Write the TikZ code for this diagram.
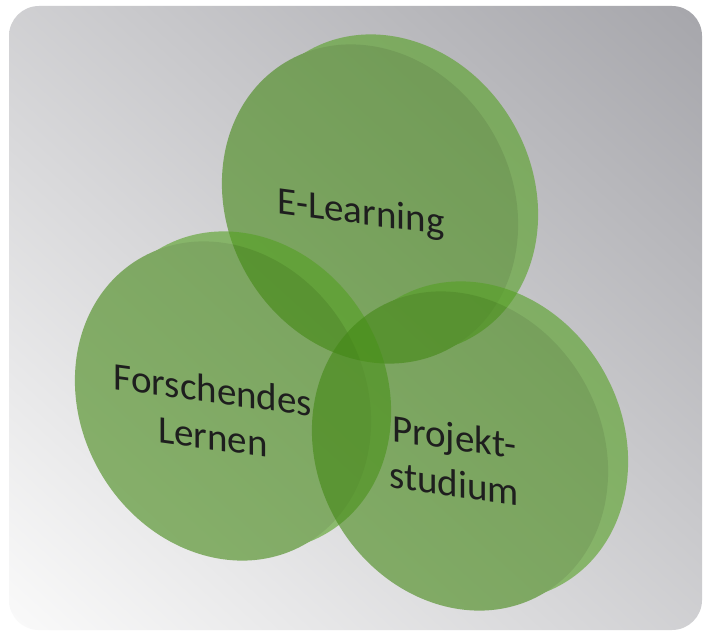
\documentclass[tikz,border=0pt]{standalone}
\usepackage{fontspec}
\setmainfont{Carlito}
\definecolor{discface}{RGB}{67,136,20}
\definecolor{discband}{RGB}{84,160,34}
\definecolor{labeltext}{RGB}{30,30,30}
% grey to white, along the diagonal
\pgfdeclarefunctionalshading{bgshading}{\pgfpoint{0bp}{0bp}}{\pgfpoint{100bp}{100bp}}{}{
  add 50 sub 100 div dup 0.33 mul 0.98 exch sub dup 3 -1 roll 0.02 mul 2 index add
}
\tikzset{
  face/.style = {fill=discface},
  band/.style = {fill=discband},
  disc/.style = {transparency group, opacity=0.6},
  lbl/.style  = {text=labeltext, align=center, inner sep=0pt,
                 font=\fontsize{39}{47}\selectfont}
}

\begin{document}
\begin{tikzpicture}[x=1pt, y=1pt]
	\def \ra{165}   % long half axis
	\def \rb{142}   % short half axis
	\def \tilt{-60}
	\def \dx{20}    % depth of the discs
	\def \dy{10}

	\useasboundingbox (0,0) rectangle (708,635);
	\fill[white] (0,0) rectangle (708,635);

	% Background
	\shade[shading=bgshading, rounded corners=30] (9,5) rectangle (702,629);

	% Disc E-Learning
	\begin{scope}[disc, shift={(370,431)}]
		\fill[band, shift={(\dx,\dy)}, rotate=\tilt] (0,0) ellipse [x radius=\ra, y radius=\rb];
		\fill[face, rotate=\tilt] (0,0) ellipse [x radius=\ra, y radius=\rb];
	\end{scope}

	% Disc Forschendes Lernen
	\begin{scope}[disc, shift={(223,234)}]
		\fill[band, shift={(\dx,\dy)}, rotate=\tilt] (0,0) ellipse [x radius=\ra, y radius=\rb];
		\fill[face, rotate=\tilt] (0,0) ellipse [x radius=\ra, y radius=\rb];
	\end{scope}

	% Disc Projektstudium
	\begin{scope}[disc, shift={(460,184)}]
		\fill[band, shift={(\dx,\dy)}, rotate=\tilt] (0,0) ellipse [x radius=\ra, y radius=\rb];
		\fill[face, rotate=\tilt] (0,0) ellipse [x radius=\ra, y radius=\rb];
	\end{scope}

	% Labels
	\node[lbl, yslant=-0.132] (elearning) at (361,421) {E-Learning};
	\node[lbl, yslant=-0.135] (forschen) at (213,222) {Forschendes\\Lernen};
	\node[lbl, yslant=-0.14] (projekt) at (454,175) {Projekt-\\studium};

\end{tikzpicture}
\end{document}
